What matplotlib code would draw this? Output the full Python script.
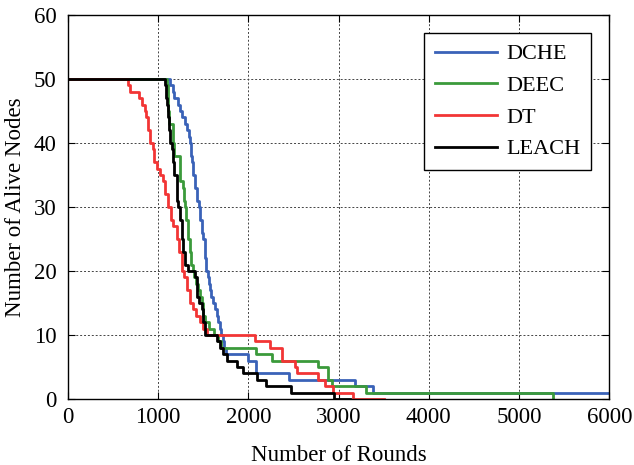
import matplotlib.pyplot as plt

plt.rcParams['font.family'] = ['Liberation Serif', 'DejaVu Serif']

# alive-node counts after each round where a node dies (step curves)
dche_rounds = [0, 1130, 1160, 1180, 1220, 1240, 1270, 1300, 1316, 1340, 1353, 1365, 1372, 1390,
               1408, 1430, 1456, 1470, 1485, 1500, 1515, 1530, 1550, 1560, 1575, 1590, 1608,
               1630, 1650, 1665, 1685, 1700, 1715, 1730, 1750, 2000, 2090, 2450, 3180, 3380, 6000]
dche_alive = [50, 49, 48, 47, 46, 45, 44, 43, 42, 41, 40, 38, 37, 35,
              33, 31, 30, 28, 26, 25, 22, 20, 19, 18, 17, 16, 15,
              14, 13, 12, 11, 10, 9, 8, 7, 6, 4, 3, 2, 1, 1]

deec_rounds = [0, 1095, 1105, 1115, 1125, 1165, 1170, 1175, 1240, 1245, 1280, 1290, 1298, 1310,
               1331, 1350, 1370, 1386, 1400, 1420, 1445, 1465, 1486, 1500, 1520, 1560, 1620,
               1660, 1700, 2090, 2260, 2770, 2880, 2930, 3300, 5380]
deec_alive = [50, 49, 47, 45, 43, 42, 40, 38, 37, 34, 33, 31, 30, 28,
              25, 23, 21, 20, 19, 18, 17, 16, 15, 13, 12, 11, 10,
              9, 8, 7, 6, 5, 3, 2, 1, 0]

dt_rounds = [0, 670, 690, 790, 820, 855, 870, 890, 909, 940, 960, 983, 1020, 1057, 1080,
             1112, 1140, 1170, 1205, 1230, 1264, 1290, 1320, 1353, 1390, 1420, 1460, 1500,
             1541, 2074, 2240, 2370, 2517, 2540, 2772, 2850, 2940, 3160, 3500]
dt_alive = [50, 49, 48, 47, 46, 45, 44, 42, 40, 39, 37, 36, 35, 34, 32,
            30, 28, 27, 25, 23, 20, 19, 17, 15, 14, 13, 12, 11,
            10, 9, 8, 6, 5, 4, 3, 2, 1, 0, 0]

leach_rounds = [0, 1080, 1090, 1100, 1110, 1120, 1131, 1150, 1168, 1180, 1205, 1215, 1223, 1240,
                1260, 1280, 1300, 1330, 1410, 1427, 1455, 1483, 1500, 1520, 1650, 1686, 1720,
                1760, 1874, 1945, 2100, 2200, 2470, 2945, 3130]
leach_alive = [50, 49, 47, 46, 44, 42, 40, 39, 37, 35, 33, 31, 30, 28,
               25, 23, 21, 20, 19, 16, 15, 14, 12, 10, 9, 8, 7,
               6, 5, 4, 3, 2, 1, 0, 0]

fig = plt.figure(figsize=(6.34, 4.65), dpi=100)
ax = fig.add_axes([0.107, 0.142, 0.854, 0.826])

lw = 2.0
ax.step(dche_rounds, dche_alive, where='post', color='#3a62b8', lw=lw, label='DCHE')
ax.step(deec_rounds, deec_alive, where='post', color='#3b9a3b', lw=lw, label='DEEC')
ax.step(dt_rounds, dt_alive, where='post', color='#f23535', lw=lw, label='DT')
ax.step(leach_rounds, leach_alive, where='post', color='black', lw=lw, label='LEACH')

ax.set_xlim(0, 6000)
ax.set_ylim(0, 60)
ax.set_xticks(range(0, 6001, 1000))
ax.set_yticks(range(0, 61, 10))
ax.grid(True, color='#444444', linestyle=(0, (2, 2)), linewidth=0.7)
ax.tick_params(direction='in', length=5, top=True, right=True, labelsize=16.5)
ax.tick_params(axis='x', pad=6)
ax.tick_params(axis='y', pad=8)
for s in ax.spines.values():
    s.set_linewidth(1.0)

ax.set_xlabel('Number of Rounds', fontsize=16.5, labelpad=12)
ax.set_ylabel('Number of Alive Nodes', fontsize=16.5, labelpad=6)

leg = ax.legend(loc='upper right', fontsize=16, fancybox=False, framealpha=1,
                edgecolor='black', handlelength=2.8, handletextpad=0.4,
                labelspacing=0.5, borderpad=0.5, borderaxespad=0.8)
leg.get_frame().set_linewidth(1.0)

fig.savefig('out.png', dpi=100)
